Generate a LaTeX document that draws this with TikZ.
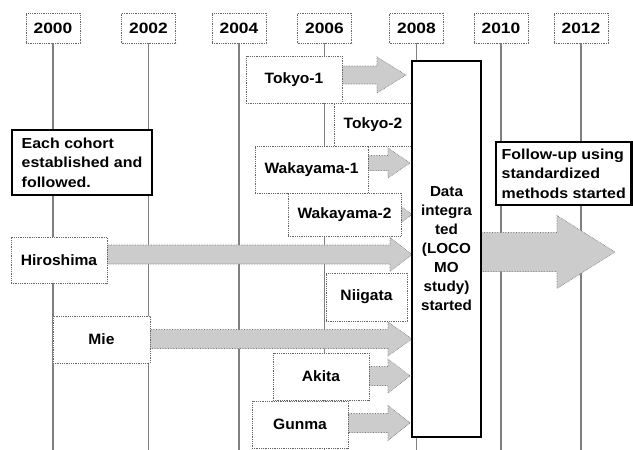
\documentclass[tikz,border=0pt]{standalone}
\usepackage{fontspec}
\setmainfont{Liberation Sans}
\newfontfamily\yfont[FakeStretch=1.16]{Liberation Sans}
\newfontfamily\cfont[FakeStretch=1.04]{Liberation Sans}
\newfontfamily\nfont[FakeStretch=1.1]{Liberation Sans}
\newfontfamily\dfont[FakeStretch=1.05]{Liberation Sans}
\pgfdeclarelayer{lines}
\pgfdeclarelayer{arrows}
\pgfsetlayers{lines,arrows,main}
\tikzset{
  yearbox/.style={draw=black!60, densely dotted, line width=0.8pt, fill=white,
    minimum width=54pt, minimum height=30pt, inner sep=0pt,
    font=\yfont\bfseries\fontsize{15}{18}\selectfont},
  cbox/.style={draw=black!60, densely dotted, line width=0.8pt, fill=white,
    inner sep=0pt, font=\cfont\bfseries\fontsize{15}{18}\selectfont},
  notebox/.style={draw=black, line width=2.4pt, fill=white, inner sep=0pt,
    align=left, font=\nfont\bfseries\fontsize{14.5}{19.5}\selectfont},
  databox/.style={draw=black, line width=2.4pt, fill=white, inner sep=0pt,
    align=center, font=\dfont\bfseries\fontsize{14.5}{19}\selectfont},
  yline/.style={draw=black!50, line width=1.5pt},
  garrow/.style={fill=gray!40, draw=black!55, densely dotted, line width=0.6pt},
}
\newcommand\blockarrow[6]{%
  \filldraw[garrow] (#1,{#4-#5}) -- (#2,{#4-#5}) -- (#2,{#4-#6}) -- (#3,#4)
    -- (#2,{#4+#6}) -- (#2,{#4+#5}) -- (#1,{#4+#5}) -- cycle;}
\begin{document}
\begin{tikzpicture}[x=1pt,y=-1pt]
\useasboundingbox (0,0) rectangle (633,450);
\coordinate (bot) at (0,450);

% year labels
\node[yearbox] (y2000) at (53,28) {2000};
\node[yearbox] (y2002) at (148.5,28) {2002};
\node[yearbox] (y2004) at (239,28) {2004};
\node[yearbox] (y2006) at (324.5,28) {2006};
\node[yearbox] (y2008) at (416.5,28) {2008};
\node[yearbox] (y2010) at (501,28) {2010};
\node[yearbox] (y2012) at (581,28) {2012};

\begin{pgfonlayer}{lines}
\foreach \y in {y2000,y2002,y2004,y2006,y2008,y2010,y2012}
  \draw[yline] (\y.south) -- (\y.south |- bot);
\end{pgfonlayer}

% cohort boxes
\node[cbox, minimum width=96pt, minimum height=47pt] (tokyo1) at (294,79.5) {Tokyo-1};
\node[cbox, minimum width=78pt, minimum height=43pt] (tokyo2) at (373,124.5) {Tokyo-2};
\node[cbox, minimum width=113pt, minimum height=47pt] (waka1) at (311.5,169.5) {Wakayama-1};
\node[cbox, minimum width=113pt, minimum height=43pt] (waka2) at (344.5,214.5) {Wakayama-2};
\node[cbox, minimum width=96pt, minimum height=46pt] (hiro) at (59,260) {Hiroshima};
\node[cbox, minimum width=81pt, minimum height=48pt] (niigata) at (366.5,297) {Niigata};
\node[cbox, minimum width=97pt, minimum height=47pt] (mie) at (101.5,339.5) {Mie};
\node[cbox, minimum width=96pt, minimum height=47pt] (akita) at (321,376.5) {Akita};
\node[cbox, minimum width=96pt, minimum height=47pt] (gunma) at (300,424.5) {Gunma};

% central box
\node[databox, minimum width=69pt, minimum height=376pt] (data) at (446.5,249)
  {Data\\integra\\ted\\(LOCO\\MO\\study)\\started};

% notes
\node[notebox, minimum width=140pt, minimum height=65pt] (note1) at (82,162.5)
  {Each cohort\\established and\\followed.};
\node[notebox, minimum width=135.5pt, minimum height=63.3pt] (note2) at (563.75,173.4)
  {Follow-up using\\standardized\\methods started};

% block arrows
\begin{pgfonlayer}{arrows}
\blockarrow{330}{377}{406}{75}{9}{18}
\blockarrow{360}{388}{410}{163}{7.5}{15}
\blockarrow{380}{389}{412}{214.5}{8}{17}
\blockarrow{100}{390}{412}{254.5}{9.5}{17}
\blockarrow{145}{388}{412}{339}{9.5}{17}
\blockarrow{360}{388}{410}{376}{9.5}{17}
\blockarrow{340}{388}{410}{423}{9.5}{17.5}
\blockarrow{481}{557}{615}{252}{19.5}{36.5}
\end{pgfonlayer}
\end{tikzpicture}
\end{document}
